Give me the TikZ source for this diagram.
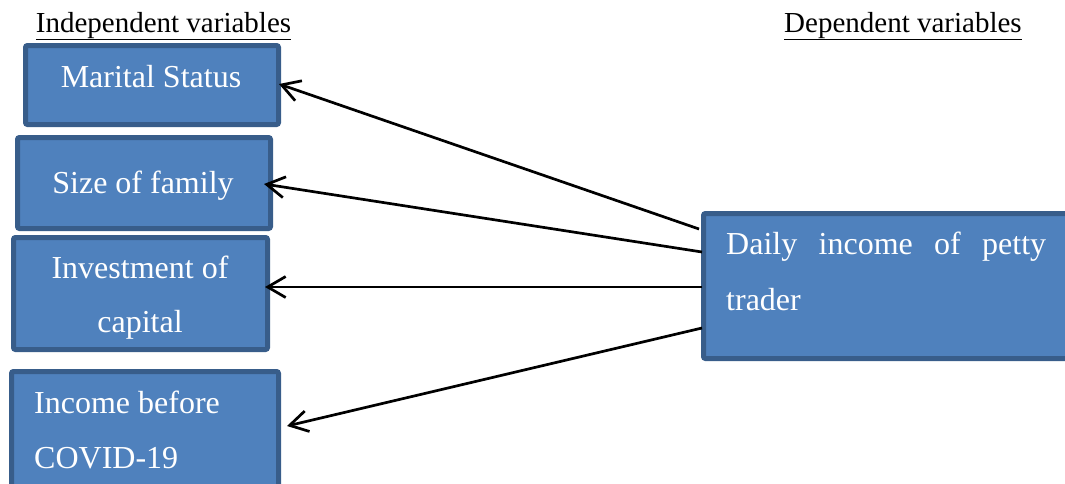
\documentclass[tikz,border=0pt]{standalone}
\usepackage{fontspec}
\setmainfont{Liberation Serif}
\usetikzlibrary{arrows.meta,calc}
\definecolor{boxfill}{HTML}{4F81BD}
\definecolor{boxline}{HTML}{385D8A}
\tikzset{
  varbox/.style={draw=boxline, fill=boxfill, line width=5pt, rounded corners=2pt,
    rectangle, outer sep=0pt, inner sep=0pt, anchor=north west},
  boxtext/.style={text=white, font=\fontsize{32}{38}\selectfont, inner sep=0pt},
  headtext/.style={text=black, font=\fontsize{29}{34}\selectfont, inner sep=0pt},
  arr/.style={line width=2.7pt, -{Straight Barb[length=18pt,width=21pt,line width=2.7pt]}}
}
\begin{document}
\begin{tikzpicture}[x=1pt,y=-1pt]
\useasboundingbox (0,0) rectangle (1065,483);
% headers
\node[headtext, anchor=base] (hI) at (163.5,32) {\underline{Independent variables}};
\node[headtext, anchor=base west] (hD) at (784,32) {\underline{Dependent variables}};
% boxes
\node[varbox, minimum width=253pt, minimum height=79pt] (M) at (25.5,45.5) {};
\node[varbox, minimum width=253pt, minimum height=91pt] (S) at (17.5,137.5) {};
\node[varbox, minimum width=254pt, minimum height=112pt] (I) at (13.5,237.5) {};
\node[varbox, minimum width=267pt, minimum height=130pt] (C) at (11.5,371.5) {};
\node[varbox, minimum width=380pt, minimum height=145pt] (D) at (703.5,213.5) {};
% box texts
\node[boxtext, anchor=base] (tM) at (151,87) {Marital Status};
\node[boxtext, anchor=base] (tS) at (143,193) {Size of family};
\node[boxtext, anchor=base] (tI1) at (140,278) {Investment of};
\node[boxtext, anchor=base] (tI2) at (140,332) {capital};
\node[boxtext, anchor=base west] (tC1) at (34,413) {Income before};
\node[boxtext, anchor=base west] (tC2) at (34,468) {COVID-19};
\node[boxtext, anchor=base west] (tD1) at (726,254) {\makebox[320pt][s]{Daily income of petty}};
\node[boxtext, anchor=base west] (tD2) at (726,310) {trader};
% arrows
\draw[arr] ($(D.north west)+(-4.5,15.5)$) -- ($(M.north east)+(0.5,38.5)$);
\draw[arr] ($(D.north west)+(-1.5,38.5)$) -- ($(S.north east)+(-6.5,46.5)$);
\draw[arr] ($(D.north west)+(-1.5,73.5)$) -- ($(I.north east)+(-2.5,49.5)$);
\draw[arr] ($(D.north west)+(-1.5,114.5)$) -- ($(C.north east)+(8.5,54.5)$);
\end{tikzpicture}
\end{document}
